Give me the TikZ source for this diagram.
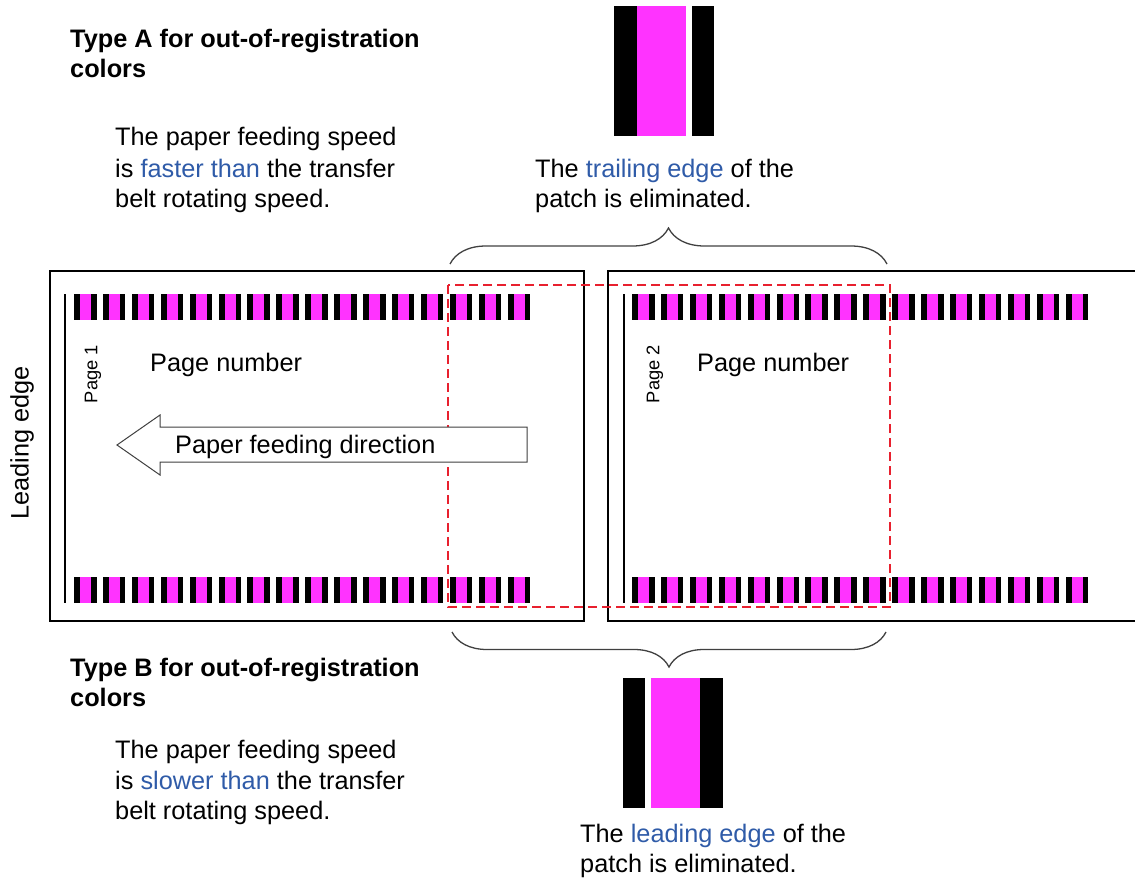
\documentclass[tikz,border=0pt]{standalone}
\usepackage{fontspec}
\setmainfont{Liberation Sans}
\usetikzlibrary{decorations.pathreplacing,calc}
\definecolor{mag}{HTML}{FF33FF}
\definecolor{txtblue}{HTML}{2F5BA8}
\definecolor{dashred}{HTML}{E8202E}
\definecolor{bracegray}{HTML}{404040}
\begin{document}
\begin{tikzpicture}[x=1pt,y=-1pt,
  txt/.style={font=\fontsize{25.3}{30.5}\selectfont, inner sep=0pt, anchor=base west},
  ttl/.style={font=\fontsize{25.3}{30.5}\selectfont\bfseries, inner sep=0pt, anchor=base west},
  pagebox/.style={draw, line width=2.2pt, inner sep=0pt},
  pagelbl/.style={font=\fontsize{18.3}{20}\selectfont, inner sep=0pt, rotate=90},
  edgeline/.style={line width=2pt},
  bracestyle/.style={draw=bracegray, line width=1.3pt, decorate},
  patchsm/.pic={\fill[black] (0,0) rectangle (22.5,26); \fill[mag] (6,0) rectangle (17,26);}
]
\useasboundingbox (0,0) rectangle (1135,880);

% pages
\node[pagebox, minimum width=534pt, minimum height=350pt] (p1) at (317,446) {};
\node[pagebox, minimum width=562pt, minimum height=350pt] (p2) at (889,446) {};

% leading lines
\coordinate (l1t) at (65,294); \coordinate (l1b) at (65,603);
\coordinate (l2t) at (624,294); \coordinate (l2b) at (624,603);
\draw[edgeline] (l1t) -- (l1b);
\draw[edgeline] (l2t) -- (l2b);

% patch strips
\foreach \i in {0,...,15}{
  \pic at ({74+28.9*\i},294) {patchsm};
  \pic at ({74+28.9*\i},577) {patchsm};
  \pic at ({632+28.9*\i},294) {patchsm};
  \pic at ({632+28.9*\i},577) {patchsm};
}

% red dashed area
\draw[dashred, line width=2.3pt, dash pattern=on 9pt off 5pt] (448,285) rectangle (890,607);

% braces
\coordinate (bta) at (450,264); \coordinate (btb) at (887,264);
\draw[bracestyle, decoration={brace, amplitude=36pt}] (bta) -- (btb);
\coordinate (bba) at (886,632); \coordinate (bbb) at (452,632);
\draw[bracestyle, decoration={brace, amplitude=35pt}] (bba) -- (bbb);

% large patches
\fill[black] (614,6) rectangle (637,136);
\fill[mag] (637,6) rectangle (686,136);
\fill[black] (692,6) rectangle (714,136);

\fill[black] (623,678) rectangle (645,808);
\fill[mag] (651,678) rectangle (700,808);
\fill[black] (700,678) rectangle (723,808);

% arrow
\draw[line width=1pt, draw=black!75, fill=white] (117,445) -- (160,415) -- (160,427) -- (527,427) -- (527,462) -- (160,462) -- (160,475) -- cycle;
\node[txt] (arrlbl) at (175,453) {Paper feeding direction};

% page texts
\node[txt] (pn1) at (150,371) {Page number};
\node[txt] (pn2) at (697,371) {Page number};
\node[pagelbl] (pg1) at (93,374) {Page 1};
\node[pagelbl] (pg2) at (655,374) {Page 2};
\node[font=\fontsize{25.3}{30}\selectfont, inner sep=0pt, rotate=90] (le) at (22,443) {Leading edge};

% Type A
\node[ttl] (ta1) at (70,48) {Type A for out-of-registration};
\node[ttl] (ta2) at (70,78) {colors};
\node[txt] (a1) at (115,146) {The paper feeding speed};
\node[txt] (a2) at (115,177) {is \textcolor{txtblue}{faster than} the transfer};
\node[txt] (a3) at (115,207) {belt rotating speed.};
\node[txt] (t1) at (535,177) {The \textcolor{txtblue}{trailing edge} of the};
\node[txt] (t2) at (535,207) {patch is eliminated.};

% Type B
\node[ttl] (tb1) at (70,676) {Type B for out-of-registration};
\node[ttl] (tb2) at (70,706) {colors};
\node[txt] (b1) at (115,758) {The paper feeding speed};
\node[txt] (b2) at (115,789) {is \textcolor{txtblue}{slower than} the transfer};
\node[txt] (b3) at (115,819) {belt rotating speed.};
\node[txt] (s1) at (580,842) {The \textcolor{txtblue}{leading edge} of the};
\node[txt] (s2) at (580,872) {patch is eliminated.};
\end{tikzpicture}
\end{document}
